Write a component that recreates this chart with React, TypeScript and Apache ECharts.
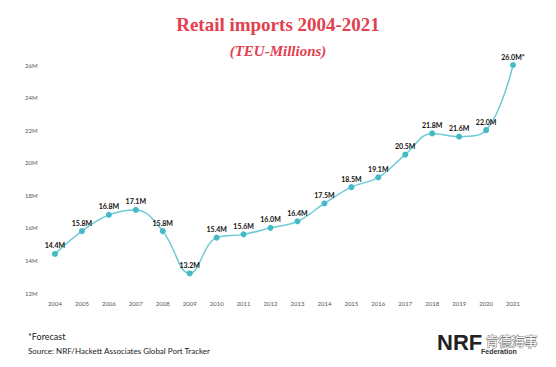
import React, { useEffect, useRef } from "react";
import * as echarts from "echarts";

const years = ["2004","2005","2006","2007","2008","2009","2010","2011","2012","2013","2014","2015","2016","2017","2018","2019","2020","2021"];
const imports = [14.4, 15.8, 16.8, 17.1, 15.8, 13.2, 15.4, 15.6, 16.0, 16.4, 17.5, 18.5, 19.1, 20.5, 21.8, 21.6, 22.0, 26.0];
const forecastIndex = 17;

export default function App() {
  const ref = useRef<HTMLDivElement>(null);
  useEffect(() => {
    const chart = echarts.init(ref.current!, null, { renderer: "svg" });
    chart.setOption({
      animation: false,
      backgroundColor: "#ffffff",
      title: [
        {
          text: "Retail imports 2004-2021",
          left: "center",
          top: 10,
          textStyle: { fontFamily: "Liberation Serif, serif", fontWeight: "bold", fontSize: 19, color: "#e2404e" },
        },
        {
          text: "(TEU-Millions)",
          left: "center",
          top: 38,
          textStyle: { fontFamily: "Liberation Serif, serif", fontWeight: "bold", fontStyle: "italic", fontSize: 15, color: "#e2404e" },
        },
      ],
      grid: { left: 41.5, right: 29.5, top: 65, bottom: 74 },
      xAxis: {
        type: "category",
        data: years,
        boundaryGap: true,
        axisLine: { show: false },
        axisTick: { show: false },
        axisLabel: { fontSize: 6, color: "#555", margin: 7, fontFamily: "Lato, sans-serif" },
      },
      yAxis: {
        type: "value",
        min: 12,
        max: 26,
        interval: 2,
        splitLine: { show: false },
        axisLine: { show: false },
        axisTick: { show: false },
        axisLabel: { fontSize: 6, color: "#555", margin: 4, formatter: (v: number) => v + "M", fontFamily: "Lato, sans-serif" },
      },
      series: [
        {
          type: "line",
          data: imports,
          smooth: 0.4,
          symbol: "circle",
          symbolSize: 6,
          lineStyle: { color: "#6ccbd5", width: 1.5 },
          itemStyle: { color: "#45b9c6" },
          label: {
            show: true,
            position: "top",
            distance: 2,
            fontSize: 7,
            fontWeight: "bold",
            color: "#111",
            fontFamily: "Lato, sans-serif",
            formatter: (p: any) => p.value.toFixed(1) + "M" + (p.dataIndex === forecastIndex ? "*" : ""),
          },
        },
      ],
      graphic: [
        { type: "text", left: 28, top: 332, style: { text: "*Forecast", fontSize: 9, fill: "#222", fontFamily: "Lato, sans-serif" } },
        { type: "text", left: 28, top: 347, style: { text: "Source: NRF/Hackett Associates Global Port Tracker", fontSize: 8, fill: "#222", fontFamily: "Lato, sans-serif" } },
        { type: "text", left: 437, top: 331, style: { text: "NRF", fontSize: 22, fontWeight: "bold", fill: "#222", fontFamily: "Liberation Sans, sans-serif" } },
        { type: "text", left: 481, top: 348, style: { text: "Federation", fontSize: 7, fontWeight: "bold", fill: "#333", fontFamily: "Liberation Sans, sans-serif" } },
        { type: "text", left: 485, top: 333, style: { text: "肯德海事", fontSize: 13, fill: "#ffffff", stroke: "#777", lineWidth: 1, fontFamily: "Noto Sans CJK SC" } },
      ],
    });
    return () => chart.dispose();
  }, []);
  return <div ref={ref} style={{ width: 556, height: 367, position: "absolute", left: 0, top: 0 }} />;
}
